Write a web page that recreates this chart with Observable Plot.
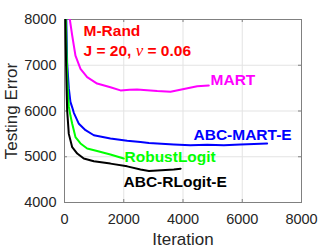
<!DOCTYPE html>
<html>
<head>
<meta charset="utf-8">
<script src="https://cdn.jsdelivr.net/npm/d3@7"></script>
<script src="https://cdn.jsdelivr.net/npm/@observablehq/plot@0.6"></script>
<style>
  html, body { margin: 0; padding: 0; background: #fff; }
  #chart svg { display: block; }
</style>
</head>
<body>
<div id="chart"></div>
<script>
// ---- data ----
const xTicks = [0, 2000, 4000, 6000, 8000];
const yTicks = [4000, 5000, 6000, 7000, 8000];

const martIter = [130, 180, 260, 370, 540, 765, 1100, 1550, 1890, 2200, 2450, 2900, 3130, 3580, 4030, 4480, 4870];
const martErr  = [8300, 8000, 7650, 7210, 6920, 6740, 6600, 6520, 6450, 6465, 6470, 6450, 6435, 6420, 6480, 6540, 6560];

const abcMartIter = [20, 60, 90, 145, 200, 260, 315, 485, 710, 990, 1550, 2115, 2565, 2850, 3130, 3690, 4250, 4820, 5380, 5940, 6400, 6840];
const abcMartErr  = [9000, 8000, 7040, 6500, 6200, 6080, 5960, 5720, 5580, 5470, 5400, 5350, 5320, 5300, 5290, 5270, 5250, 5265, 5250, 5270, 5280, 5290];

const robustIter = [20, 60, 100, 145, 200, 260, 370, 540, 765, 1100, 1550, 2000];
const robustErr  = [9000, 7500, 6600, 6100, 5900, 5720, 5430, 5290, 5180, 5125, 5050, 4960];

const abcRLogitIter = [10, 40, 70, 90, 145, 260, 430, 650, 990, 1550, 2115, 2565, 2850, 3130, 3690, 3920];
const abcRLogitErr  = [9000, 7500, 6500, 6010, 5500, 5210, 5070, 4960, 4900, 4850, 4790, 4720, 4690, 4700, 4720, 4740];

const seriesNames  = ["MART", "ABC-MART-E", "RobustLogit", "ABC-RLogit-E"];
const seriesColors = ["#ff00ff", "#0000ff", "#00ff00", "#000000"];

// annotation texts and anchor values (data units)
const labelTexts = ["M-Rand", "J = 20, ν = 0.06", "MART", "ABC-MART-E", "RobustLogit", "ABC-RLogit-E"];
const labelIter  = [641, 641, 4929, 4355, 2026, 1992];
const labelErr   = [7738, 7301, 6668, 5468, 4987, 4442];
const labelColors = ["#ff0000", "#ff0000", "#ff00ff", "#0000ff", "#00ff00", "#000000"];

// ---- build tables ----
const iters = [martIter, abcMartIter, robustIter, abcRLogitIter];
const errs  = [martErr, abcMartErr, robustErr, abcRLogitErr];
const lines = seriesNames.flatMap((name, i) =>
  iters[i].map((x, j) => ({series: name, x, y: errs[i][j]})));
const labels = labelTexts.map((t, i) => ({text: t, x: labelIter[i], y: labelErr[i], color: labelColors[i]}));

const W = 332, H = 249;
const mL = 64, mR = 31, mT = 19, mB = 47;
const innerW = W - mL - mR, innerH = H - mT - mB;
const font = "'Liberation Sans', Arial, Helvetica, sans-serif";
const axisColor = "#262626";
const tickLen = 3;
const fmt = d3.format("d");

const chart = Plot.plot({
  width: W, height: H,
  marginLeft: mL, marginRight: mR, marginTop: mT, marginBottom: mB,
  style: {fontFamily: font, background: "#fff", color: axisColor, overflow: "visible"},
  x: {domain: [0, 8000], ticks: xTicks},
  y: {domain: [4000, 8000], ticks: yTicks},
  marks: [
    Plot.gridX(xTicks, {stroke: "#e3e3e3", strokeOpacity: 1, strokeWidth: 1}),
    Plot.gridY(yTicks, {stroke: "#e3e3e3", strokeOpacity: 1, strokeWidth: 1}),
    Plot.axisX(xTicks, {tickSize: 0, tickPadding: 11, fontSize: 14.5, tickFormat: fmt, label: "Iteration",
      labelAnchor: "center", labelArrow: "none", labelOffset: 42, fill: axisColor}),
    Plot.axisY(yTicks, {tickSize: 0, tickPadding: 8, fontSize: 14.5, tickFormat: fmt, label: "Testing Error",
      labelAnchor: "center", labelArrow: "none", labelOffset: 60, fill: axisColor}),
    // inward tick marks on all four sides
    Plot.ruleX(xTicks, {stroke: "#808080", insetTop: innerH - tickLen}),
    Plot.ruleX(xTicks, {stroke: "#808080", insetBottom: innerH - tickLen}),
    Plot.ruleY(yTicks, {stroke: "#808080", insetRight: innerW - tickLen}),
    Plot.ruleY(yTicks, {stroke: "#808080", insetLeft: innerW - tickLen}),
    Plot.frame({stroke: "#808080", strokeWidth: 1}),
    Plot.line(lines, {x: "x", y: "y", z: "series",
      stroke: d => seriesColors[seriesNames.indexOf(d.series)],
      strokeWidth: 2, clip: true, curve: "linear"}),
    Plot.text(labels, {x: "x", y: "y", text: "text", fill: "color",
      textAnchor: "start", lineAnchor: "middle", fontSize: 15.5, fontWeight: "bold"})
  ]
});

document.getElementById("chart").appendChild(chart);

// style axis labels / make ν italic
const svg = d3.select(chart);
svg.selectAll("text").each(function() {
  const t = d3.select(this);
  const s = t.text();
  if (s === "Iteration" || s === "Testing Error") {
    t.attr("font-size", 17).style("font-size", "17px").attr("fill", axisColor);
  }
  if (s.includes("ν")) {
    const parts = s.split("ν");
    const el = this.querySelector("tspan") ? d3.select(this.querySelector("tspan")) : t;
    el.text(null);
    el.append("tspan").text(parts[0]);
    el.append("tspan").text("ν").attr("font-style", "italic").attr("font-weight", "normal")
      .attr("font-family", "'Liberation Serif', 'DejaVu Serif', serif").attr("font-size", 17);
    el.append("tspan").text(parts[1]);
  }
});
</script>
</body>
</html>
